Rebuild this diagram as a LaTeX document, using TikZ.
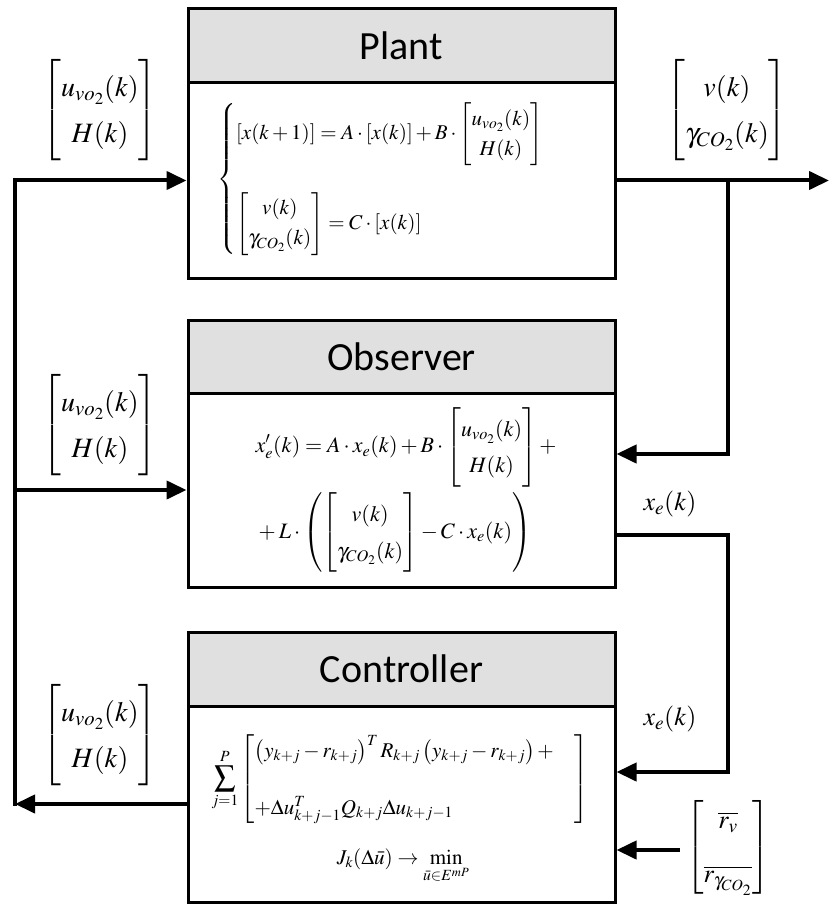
\documentclass[tikz,border=0pt]{standalone}
\usepackage{amsmath}
\usepackage{mathptmx}
\usepackage[no-math]{fontspec}
\newfontfamily\titlefont{Carlito}
\usetikzlibrary{arrows.meta}
\definecolor{hdrgray}{HTML}{E0E0E0}
\renewcommand{\arraystretch}{1.4}
\begin{document}
\begin{tikzpicture}[x=1pt,y=-1pt,
  hdr/.style={draw, line width=3pt, fill=hdrgray, minimum width=427pt, minimum height=74pt, inner sep=0pt, font=\titlefont\fontsize{40}{48}\selectfont},
  bodybox/.style={draw, line width=3pt, fill=white, minimum width=427pt, inner sep=0pt},
  eq/.style={inner sep=0pt},
  conn/.style={line width=4pt},
  arr/.style={conn, -{Triangle[length=20pt,width=18pt]}},
  lab/.style={inner sep=0pt, font=\fontsize{28}{33}\selectfont}
]
\useasboundingbox[fill=white] (0,0) rectangle (830,904);

% boxes
\node[bodybox, minimum height=195pt] (plantbody) at (401.5,180.5) {};
\node[hdr] (plant) at (401.5,46) {Plant};
\node[bodybox, minimum height=194pt] (obsbody) at (401.5,490) {};
\node[hdr, minimum height=73pt] (obs) at (401.5,356.5) {Observer};
\node[bodybox, minimum height=196pt] (ctrlbody) at (401.5,804) {};
\node[hdr] (ctrl) at (401.5,669) {Controller};

% equations
\node[eq, font=\fontsize{21}{25}\selectfont] (planteq) at (391,179) {$\begin{cases}
\left[x(k+1)\right] = A\cdot\left[x(k)\right] + B\cdot\begin{bmatrix}u_{vo_2}(k)\\ H(k)\end{bmatrix}\\[44pt]
\begin{bmatrix} v(k)\\ \gamma_{CO_2}(k)\end{bmatrix} = C\cdot\left[x(k)\right]
\end{cases}$};

\node[eq, font=\fontsize{22}{26}\selectfont] (obseq) at (406,490) {$\begin{aligned}
&x'_e(k) = A\cdot x_e(k) + B\cdot\begin{bmatrix}u_{vo_2}(k)\\ H(k)\end{bmatrix}+ \\[2pt]
&+L\cdot\left(\begin{bmatrix}v(k)\\ \gamma_{CO_2}(k)\end{bmatrix} - C\cdot x_e(k)\right)
\end{aligned}$};

\node[eq, font=\fontsize{21}{25}\selectfont] (ctrleq) at (400,779) {$\displaystyle\sum_{j=1}^{P}\left[\begin{array}{@{}l@{}}
\left(y_{k+j}-r_{k+j}\right)^{T} R_{k+j}\left(y_{k+j}-r_{k+j}\right)+\quad \\[22pt]
+\Delta u^{T}_{k+j-1}Q_{k+j}\Delta u_{k+j-1}
\end{array}\right]$};
\node[eq, font=\fontsize{21}{25}\selectfont] (ctrlj) at (403,866) {$J_k(\Delta\bar{u})\rightarrow\min\limits_{\bar{u}\in E^{mP}}$};

% side labels
\node[lab] (inlab1) at (100,110) {$\begin{bmatrix}u_{vo_2}(k)\\ H(k)\end{bmatrix}$};
\node[lab] (inlab2) at (100,425) {$\begin{bmatrix}u_{vo_2}(k)\\ H(k)\end{bmatrix}$};
\node[lab] (inlab3) at (100,735) {$\begin{bmatrix}u_{vo_2}(k)\\ H(k)\end{bmatrix}$};
\node[lab] (outlab) at (727,110) {$\begin{bmatrix}v(k)\\ \gamma_{CO_2}(k)\end{bmatrix}$};
\node[lab, font=\fontsize{26}{30}\selectfont] (xelab1) at (670,504) {$x_e(k)$};
\node[lab, font=\fontsize{26}{30}\selectfont] (xelab2) at (670,719) {$x_e(k)$};
\node[lab, font=\fontsize{26}{30}\selectfont] (reflab) at (728,847) {$\begin{bmatrix}\overline{r_v}\\[12pt] \overline{r_{\gamma_{CO_2}}}\end{bmatrix}$};

% connector coordinates
\coordinate (L1) at (15,180.5);
\coordinate (L2) at (15,490);
\coordinate (L3) at (15,804);
\coordinate (R1) at (728,180.5);
\coordinate (Rout) at (829,180.5);
\coordinate (R2) at (728,454);
\coordinate (X1) at (728,535);
\coordinate (X2) at (728,772);
\coordinate (Rf) at (680,850);

% connectors
\draw[conn, line cap=rect] (L3) -- (L1);
\draw[arr] (L1) -- (plantbody.west);
\draw[arr] (L2) -- (obsbody.west);
\draw[arr] (ctrlbody.west) -- (L3);
\draw[arr] (plantbody.east) -- (Rout);
\draw[arr] (R1) -- (R2) -- (obsbody.east |- R2);
\draw[arr] (obsbody.east |- X1) -- (X1) -- (X2) -- (ctrlbody.east |- X2);
\draw[arr] (Rf) -- (ctrlbody.east |- Rf);
\end{tikzpicture}
\end{document}
